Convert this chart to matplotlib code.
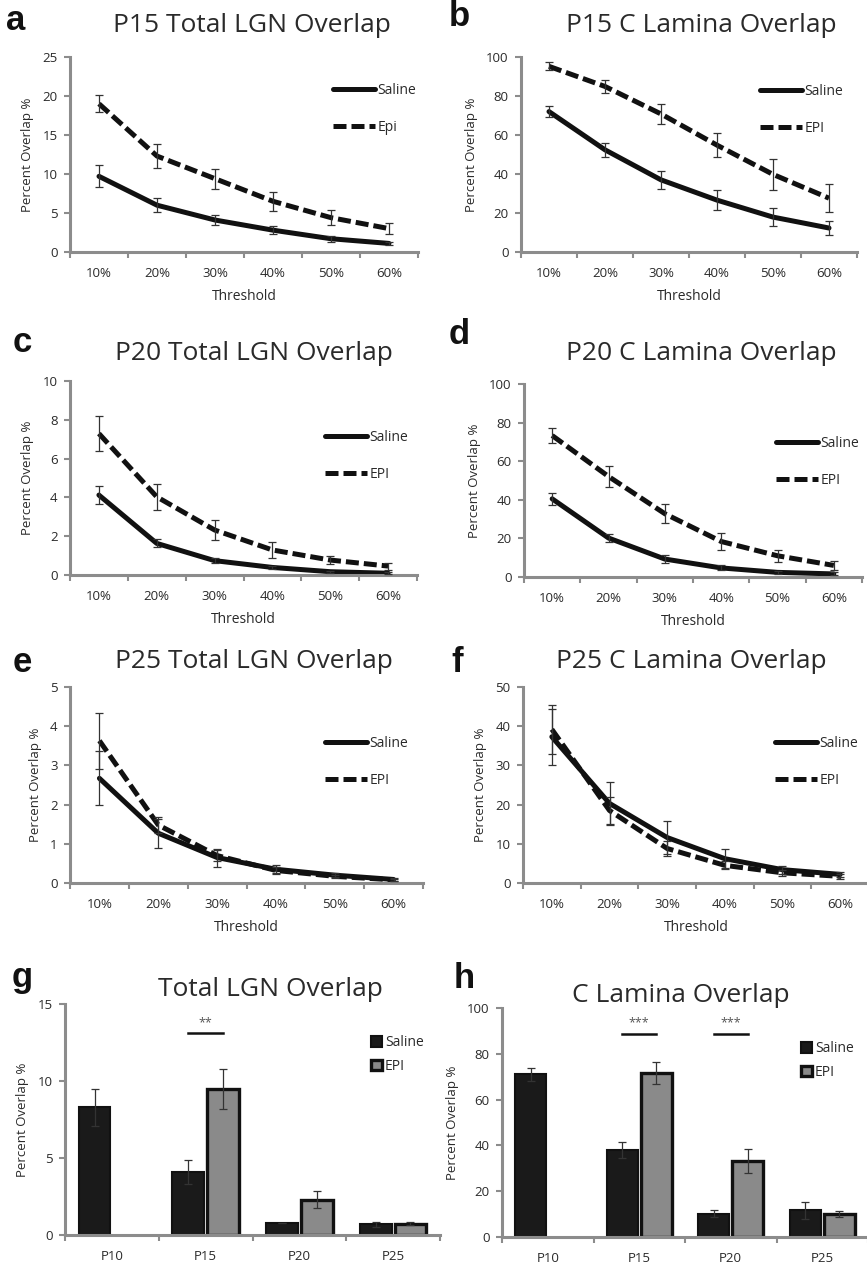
import numpy as np
import matplotlib
matplotlib.use('Agg')
import matplotlib.pyplot as plt

plt.rcParams['font.family'] = ['Open Sans', 'DejaVu Sans']

# categories
thresholds = ['10%', '20%', '30%', '40%', '50%', '60%']
ages = ['P10', 'P15', 'P20', 'P25']

# a - P15 total LGN overlap
p15_lgn_saline = [9.7, 6.0, 4.1, 2.8, 1.7, 1.1]
p15_lgn_saline_err = [1.4, 0.9, 0.7, 0.5, 0.4, 0.2]
p15_lgn_epi = [19.0, 12.3, 9.4, 6.5, 4.4, 3.0]
p15_lgn_epi_err = [1.1, 1.5, 1.3, 1.2, 1.0, 0.7]

# b - P15 C lamina overlap
p15_lam_saline = [72, 52.4, 37, 26.6, 17.9, 12.3]
p15_lam_saline_err = [3.0, 3.6, 4.5, 5.0, 4.5, 3.6]
p15_lam_epi = [95.2, 84.9, 70.8, 54.8, 39.8, 27.6]
p15_lam_epi_err = [2.0, 3.5, 5.0, 6.3, 8.0, 7.3]

# c - P20 total LGN overlap
p20_lgn_saline = [4.12, 1.63, 0.74, 0.39, 0.17, 0.09]
p20_lgn_saline_err = [0.47, 0.2, 0.12, 0.07, 0.05, 0.04]
p20_lgn_epi = [7.29, 4.03, 2.32, 1.29, 0.77, 0.46]
p20_lgn_epi_err = [0.9, 0.66, 0.5, 0.4, 0.22, 0.18]

# d - P20 C lamina overlap
p20_lam_saline = [40.5, 20.2, 9.3, 4.7, 2.4, 1.6]
p20_lam_saline_err = [3.2, 2.0, 2.0, 1.3, 0.8, 0.8]
p20_lam_epi = [73.3, 52.1, 32.8, 18.4, 11.0, 6.0]
p20_lam_epi_err = [3.9, 5.5, 5.0, 4.5, 3.2, 2.2]

# e - P25 total LGN overlap
p25_lgn_saline = [2.67, 1.27, 0.65, 0.35, 0.2, 0.09]
p25_lgn_saline_err = [0.69, 0.37, 0.23, 0.1, 0.05, 0.03]
p25_lgn_epi = [3.63, 1.48, 0.7, 0.32, 0.17, 0.08]
p25_lgn_epi_err = [0.71, 0.2, 0.15, 0.08, 0.04, 0.03]

# f - P25 C lamina overlap
p25_lam_saline = [37.3, 20.3, 11.6, 6.2, 3.4, 2.2]
p25_lam_saline_err = [7.2, 5.4, 4.2, 2.4, 1.0, 0.6]
p25_lam_epi = [39.2, 18.5, 8.8, 4.5, 2.6, 1.7]
p25_lam_epi_err = [6.2, 3.5, 2.0, 1.0, 0.8, 0.6]

# g - total LGN overlap by age
lgn_saline = [8.3, 4.1, 0.76, 0.7]
lgn_saline_err = [1.2, 0.8, 0.0, 0.15]
lgn_epi = [np.nan, 9.45, 2.3, 0.72]
lgn_epi_err = [np.nan, 1.3, 0.55, 0.1]
lgn_stars = ['', '**', '', '']
lgn_star_level = 13.1

# h - C lamina overlap by age
lam_saline = [71, 38, 10.2, 11.6]
lam_saline_err = [3.0, 3.6, 1.6, 3.6]
lam_epi = [np.nan, 71.8, 33.2, 10.0]
lam_epi_err = [np.nan, 4.8, 5.4, 1.2]
lam_stars = ['', '***', '***', '']
lam_star_level = 88.8

W, H = 867, 1264
GRAY = '#8c8c8c'
TXT = '#2a2a2a'

fig = plt.figure(figsize=(W / 100, H / 100), dpi=100)


def px_box(x0, y0, x1, y1):
    return [x0 / W, 1 - y1 / H, (x1 - x0) / W, (y1 - y0) / H]


def style_axes(ax, ncat, labels, ymax, ystep):
    for s in ['top', 'right']:
        ax.spines[s].set_visible(False)
    for s in ['left', 'bottom']:
        ax.spines[s].set_color(GRAY)
        ax.spines[s].set_linewidth(2.2)
    ax.set_xlim(0.5, ncat + 0.5)
    ax.set_ylim(0, ymax)
    ax.set_yticks(np.arange(0, ymax + ystep / 2, ystep))
    ax.set_xticks(np.arange(1, ncat + 1))
    ax.set_xticklabels(labels)
    ax.set_xticks(np.arange(0.5, ncat + 1, 1), minor=True)
    ax.tick_params(axis='x', which='major', length=0, pad=10.5, labelsize=9.5, labelcolor=TXT)
    ax.tick_params(axis='x', which='minor', length=4, width=1.5, color=GRAY)
    ax.tick_params(axis='y', length=4, width=1.5, color=GRAY, pad=5, labelsize=9.5, labelcolor=TXT)
    ax.set_ylabel('Percent Overlap %', fontsize=9.5, color=TXT, labelpad=6)


def line_panel(box, saline, saline_err, epi, epi_err, ymax, ystep, epi_name, leg):
    x0, y0, x1, y1 = box
    ax = fig.add_axes(px_box(*box))
    x = np.arange(1, len(thresholds) + 1)
    ax.plot(x, saline, color='#111111', lw=3.6, solid_capstyle='round', label='Saline', zorder=2)
    ax.plot(x, epi, color='#111111', lw=3.6, dashes=(2.6, 1.0), label=epi_name, zorder=2)
    ax.errorbar(x, saline, yerr=saline_err, fmt='none', ecolor='#333333', elinewidth=0.9,
                capsize=2.6, capthick=0.9, zorder=3)
    ax.errorbar(x, epi, yerr=epi_err, fmt='none', ecolor='#333333', elinewidth=0.9,
                capsize=2.6, capthick=0.9, zorder=3)
    style_axes(ax, len(thresholds), thresholds, ymax, ystep)
    ax.set_xlabel('Threshold', fontsize=10, color=TXT, labelpad=6.5)
    lx, ly1, ly2 = leg
    fx = (lx - x0) / (x1 - x0)
    fy = (y1 - (ly1 + ly2) / 2) / (y1 - y0)
    ax.legend(loc='center left', bbox_to_anchor=(fx, fy), borderaxespad=0, borderpad=0,
              frameon=False, handlelength=3.0, handletextpad=0.2, labelspacing=1.6,
              fontsize=10, labelcolor=TXT)
    return ax


def bar_panel(box, saline, saline_err, epi, epi_err, ymax, ystep, stars, star_level, leg):
    x0, y0, x1, y1 = box
    ax = fig.add_axes(px_box(*box))
    x = np.arange(1, len(ages) + 1)
    off, bw = 0.185, 0.34
    ax.bar(x - off, saline, width=bw, color='#1a1a1a', edgecolor='#111111', lw=1.5,
           label='Saline', zorder=2)
    ax.bar(x + off, epi, width=bw, color='#8a8a8a', edgecolor='#111111', lw=2.4,
           label='EPI', zorder=2)
    ax.errorbar(x - off, saline, yerr=saline_err, fmt='none', ecolor='#333333', elinewidth=0.9,
                capsize=2.6, capthick=0.9, zorder=3)
    ax.errorbar(x + off, epi, yerr=epi_err, fmt='none', ecolor='#333333', elinewidth=0.9,
                capsize=2.6, capthick=0.9, zorder=3)
    for i, s in enumerate(stars):
        if s:
            ax.plot([x[i] - off, x[i] + off], [star_level, star_level], color='#111111', lw=1.8)
            ax.annotate(s, (x[i], star_level), xytext=(0, 3), textcoords='offset points',
                        ha='center', va='bottom', fontsize=9, color='#555555')
    style_axes(ax, len(ages), ages, ymax, ystep)
    lx, ly1, ly2 = leg
    fx = (lx - x0) / (x1 - x0)
    fy = (y1 - (ly1 + ly2) / 2) / (y1 - y0)
    ax.legend(loc='center left', bbox_to_anchor=(fx, fy), borderaxespad=0, borderpad=0,
              frameon=False, handlelength=0.8, handleheight=0.8, handletextpad=0.2,
              labelspacing=0.62, fontsize=10, labelcolor=TXT)
    return ax


line_panel((70, 57, 418, 252), p15_lgn_saline, p15_lgn_saline_err, p15_lgn_epi, p15_lgn_epi_err,
           25, 5, 'Epi', (333, 90, 128))
line_panel((521, 57, 857, 252), p15_lam_saline, p15_lam_saline_err, p15_lam_epi, p15_lam_epi_err,
           100, 20, 'EPI', (760, 91, 129))
line_panel((70, 381, 417, 575), p20_lgn_saline, p20_lgn_saline_err, p20_lgn_epi, p20_lgn_epi_err,
           10, 2, 'EPI', (325, 437, 475))
line_panel((524, 384, 862, 577), p20_lam_saline, p20_lam_saline_err, p20_lam_epi, p20_lam_epi_err,
           100, 20, 'EPI', (776, 443, 481))
line_panel((70, 687, 423, 883), p25_lgn_saline, p25_lgn_saline_err, p25_lgn_epi, p25_lgn_epi_err,
           5, 1, 'EPI', (325, 743, 781))
line_panel((523, 687, 869, 883), p25_lam_saline, p25_lam_saline_err, p25_lam_epi, p25_lam_epi_err,
           50, 10, 'EPI', (775, 743, 781))
bar_panel((65, 1004, 440, 1235), lgn_saline, lgn_saline_err, lgn_epi, lgn_epi_err,
          15, 5, lgn_stars, lgn_star_level, (371, 1042, 1067))
bar_panel((502, 1008, 868, 1237), lam_saline, lam_saline_err, lam_epi, lam_epi_err,
          100, 20, lam_stars, lam_star_level, (801, 1048, 1073))

# titles and panel letters
titles = [('P15 Total LGN Overlap', 252, 26), ('P15 C Lamina Overlap', 701, 26),
          ('P20 Total LGN Overlap', 254, 354), ('P20 C Lamina Overlap', 701, 353),
          ('P25 Total LGN Overlap', 254, 661), ('P25 C Lamina Overlap', 691, 661),
          ('Total LGN Overlap', 270, 989), ('C Lamina Overlap', 681, 996)]
for t, x, y in titles:
    fig.text(x / W, 1 - y / H, t, ha='center', va='center', fontsize=19, color=TXT)

letters = [('a', 16, 20), ('b', 459, 17), ('c', 22, 342), ('d', 459, 334),
           ('e', 22, 662), ('f', 457, 662), ('g', 22, 977), ('h', 464, 978)]
for t, x, y in letters:
    fig.text(x / W, 1 - y / H, t, ha='center', va='center', fontsize=25, fontweight='bold',
             family=['Liberation Sans', 'DejaVu Sans'], color='#111111')

fig.savefig('out.png', dpi=100)
